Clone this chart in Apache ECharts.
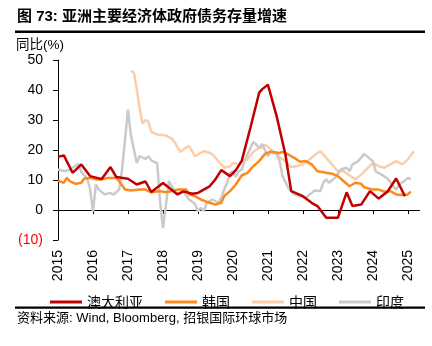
<!DOCTYPE html>
<html>
<head>
<meta charset="utf-8">
<script src="https://cdn.jsdelivr.net/npm/echarts@6/dist/echarts.min.js"></script>
<style>
  html, body { margin: 0; padding: 0; background: #fff; }
  #chart { width: 432px; height: 346px; }
</style>
</head>
<body>
<div id="chart"></div>
<script>
// Monthly category axis, Jan 2015 .. May 2025
const months = [];
for (let y = 2015; y <= 2025; y++) {
  for (let m = 1; m <= 12; m++) {
    if (y === 2025 && m > 5) break;
    months.push(y + '-' + (m < 10 ? '0' + m : m));
  }
}

const seriesNames = ['澳大利亚', '韩国', '中国', '印度'];
const yTicks = { min: -10, max: 50, step: 10 };

// Government debt stock, YoY %
const australia = [
  ['2015-01', 17.7], ['2015-03', 18.2], ['2015-06', 12.4], ['2015-09', 15.2], ['2015-12', 11.3],
  ['2016-04', 10.3], ['2016-07', 14.3], ['2016-09', 11.0], ['2017-01', 10.4], ['2017-04', 8.5],
  ['2017-07', 9.5], ['2017-09', 6.0], ['2018-01', 9.0], ['2018-03', 7.5], ['2018-06', 5.2],
  ['2018-08', 6.2], ['2018-11', 5.4], ['2019-01', 5.7], ['2019-05', 7.9], ['2019-07', 10.2],
  ['2019-09', 13.3], ['2019-12', 11.3], ['2020-02', 13.3], ['2020-04', 16.3], ['2020-07', 27.4],
  ['2020-10', 39.1], ['2020-11', 40.2], ['2021-01', 41.8], ['2021-04', 31.3], ['2021-07', 18.5],
  ['2021-09', 6.3], ['2022-01', 4.6], ['2022-04', 2.4], ['2022-06', 1.3], ['2022-09', -2.6],
  ['2023-01', -2.6], ['2023-04', 5.9], ['2023-06', 1.3], ['2023-09', 1.8], ['2023-12', 6.3],
  ['2024-03', 3.8], ['2024-06', 6.1], ['2024-09', 10.5], ['2024-12', 4.6]
];

const korea = [
  ['2015-01', 9.8], ['2015-03', 9.1], ['2015-04', 10.7], ['2015-05', 9.6], ['2015-07', 8.7],
  ['2015-09', 9.1], ['2015-10', 10.5], ['2015-12', 10.7], ['2016-02', 10.2], ['2016-04', 10.2],
  ['2016-06', 10.7], ['2016-09', 10.7], ['2016-10', 9.6], ['2016-12', 6.8], ['2017-02', 6.5],
  ['2017-05', 6.8], ['2017-07', 6.8], ['2017-09', 5.9], ['2017-12', 6.3], ['2018-02', 5.9],
  ['2018-04', 6.3], ['2018-06', 6.8], ['2018-09', 6.8], ['2018-10', 5.2], ['2018-12', 4.6],
  ['2019-02', 3.5], ['2019-05', 2.4], ['2019-07', 1.8], ['2019-09', 2.4], ['2019-10', 4.6],
  ['2019-12', 6.3], ['2020-02', 8.5], ['2020-04', 11.5], ['2020-06', 12.4], ['2020-08', 14.6],
  ['2020-10', 16.3], ['2020-12', 18.7], ['2021-02', 19.4], ['2021-05', 19.0], ['2021-06', 19.4],
  ['2021-08', 18.5], ['2021-10', 17.4], ['2021-12', 16.1], ['2022-02', 16.3], ['2022-04', 15.2],
  ['2022-06', 12.9], ['2022-09', 12.4], ['2022-11', 12.1], ['2023-01', 11.3], ['2023-03', 9.6],
  ['2023-05', 7.9], ['2023-07', 9.1], ['2023-09', 8.7], ['2023-10', 7.6], ['2024-01', 6.8],
  ['2024-03', 6.8], ['2024-05', 6.1], ['2024-07', 6.3], ['2024-09', 5.2], ['2024-11', 5.0],
  ['2025-01', 5.2], ['2025-02', 6.1]
];

const china = [
  ['2017-02', 46.4], ['2017-03', 45.9], ['2017-04', 40.5], ['2017-05', 33.8], ['2017-06', 28.8],
  ['2017-07', 30.0], ['2017-08', 29.5], ['2017-09', 26.0], ['2017-11', 25.2], ['2018-02', 24.8],
  ['2018-04', 23.8], ['2018-05', 22.6], ['2018-07', 19.3], ['2018-09', 20.9], ['2018-10', 21.3],
  ['2018-12', 17.9], ['2019-01', 18.5], ['2019-03', 19.6], ['2019-05', 19.1], ['2019-06', 18.5],
  ['2019-08', 16.3], ['2019-10', 14.1], ['2019-12', 14.6], ['2020-01', 15.7], ['2020-03', 15.2],
  ['2020-04', 16.3], ['2020-06', 16.8], ['2020-08', 19.4], ['2020-10', 20.7], ['2020-11', 20.9],
  ['2020-12', 21.8], ['2021-02', 20.2], ['2021-04', 18.8], ['2021-05', 17.6], ['2021-07', 16.3],
  ['2021-09', 14.3], ['2021-11', 14.6], ['2022-01', 15.2], ['2022-02', 15.7], ['2022-05', 18.3],
  ['2022-07', 19.6], ['2022-09', 17.4], ['2022-11', 15.2], ['2023-01', 12.9], ['2023-03', 12.9],
  ['2023-05', 11.5], ['2023-07', 10.2], ['2023-09', 11.8], ['2023-11', 13.8], ['2024-01', 15.7],
  ['2024-03', 14.6], ['2024-05', 14.1], ['2024-07', 15.2], ['2024-09', 16.3], ['2024-11', 15.2],
  ['2025-01', 16.8], ['2025-03', 19.6]
];

const india = [
  ['2015-01', 13.5], ['2015-03', 13.0], ['2015-05', 13.3], ['2015-06', 14.1], ['2015-08', 15.3],
  ['2015-09', 12.7], ['2015-11', 10.5], ['2015-12', 7.0], ['2016-01', -0.5], ['2016-02', 8.5],
  ['2016-03', 6.8], ['2016-05', 5.2], ['2016-07', 5.7], ['2016-08', 5.1], ['2016-10', 6.8],
  ['2016-11', 13.7], ['2017-01', 33.5], ['2017-02', 25.0], ['2017-04', 15.7], ['2017-05', 18.0],
  ['2017-06', 17.5], ['2017-07', 17.0], ['2017-08', 17.9], ['2017-09', 16.6], ['2017-10', 16.0],
  ['2017-11', 15.7], ['2017-12', 3.0], ['2018-01', -6.0], ['2018-02', 1.5], ['2018-03', 9.6],
  ['2018-05', 6.3], ['2018-06', 5.4], ['2018-08', 6.2], ['2018-10', 3.5], ['2018-12', 2.0],
  ['2019-01', -0.4], ['2019-02', 0.7], ['2019-03', -0.4], ['2019-04', 2.4], ['2019-06', 3.5],
  ['2019-08', 2.4], ['2019-09', 4.1], ['2019-10', 6.8], ['2019-11', 9.0], ['2019-12', 12.4],
  ['2020-01', 12.9], ['2020-02', 11.0], ['2020-03', 12.9], ['2020-04', 13.5], ['2020-05', 16.3],
  ['2020-06', 18.5], ['2020-08', 22.7], ['2020-09', 21.8], ['2020-10', 20.7], ['2020-11', 22.0],
  ['2021-01', 17.9], ['2021-02', 19.6], ['2021-04', 18.5], ['2021-05', 16.3], ['2021-06', 11.3],
  ['2021-08', 7.4], ['2021-10', 5.2], ['2021-12', 4.6], ['2022-02', 4.1], ['2022-04', 5.7],
  ['2022-05', 6.5], ['2022-07', 6.3], ['2022-08', 9.1], ['2022-09', 10.2], ['2022-10', 9.1],
  ['2022-12', 10.7], ['2023-02', 13.5], ['2023-04', 14.1], ['2023-05', 12.9], ['2023-06', 15.2],
  ['2023-08', 16.3], ['2023-10', 18.7], ['2023-11', 17.9], ['2024-01', 16.3], ['2024-02', 12.9],
  ['2024-04', 11.8], ['2024-06', 10.5], ['2024-08', 7.9], ['2024-09', 6.8], ['2024-10', 8.5],
  ['2024-12', 9.8], ['2025-01', 10.7], ['2025-02', 10.2]
];

const colors = ['#C00000', '#F98A1E', '#FBCDA9', '#CACACA'];
const LATIN = "'Liberation Sans', Arial, sans-serif";
const CJK = "'Liberation Sans', 'Noto Sans CJK SC', sans-serif";

const isYearStart = (idx) => idx % 12 === 0;

function lineSeries(name, data, color, z) {
  return {
    name: name,
    type: 'line',
    data: data,
    xAxisIndex: 0,
    yAxisIndex: 0,
    showSymbol: false,
    symbol: 'none',
    color: color,
    lineStyle: { color: color, width: 2.5 },
    z: z,
    animation: false
  };
}

const chart = echarts.init(document.getElementById('chart'), null, { renderer: 'canvas' });

chart.setOption({
  animation: false,
  backgroundColor: '#fff',
  grid: { left: 58, right: 12.5, top: 60, bottom: 106, containLabel: false },
  legend: {
    data: seriesNames,
    left: 45,
    top: 290,
    icon: 'rect',
    itemWidth: 32,
    itemHeight: 3,
    itemGap: 22,
    textStyle: { fontSize: 14, color: '#000', fontFamily: "'Noto Sans CJK SC', sans-serif" }
  },
  xAxis: [
    {
      // year labels along the bottom
      type: 'category',
      data: months,
      boundaryGap: false,
      position: 'bottom',
      axisLine: { show: false, onZero: false },
      axisTick: { show: false },
      splitLine: { show: false },
      axisLabel: {
        interval: (idx) => isYearStart(idx),
        formatter: (v) => v.slice(0, 4),
        rotate: 90,
        margin: 10,
        fontSize: 14,
        color: '#000',
        fontFamily: LATIN
      }
    },
    {
      // zero baseline with year ticks
      type: 'category',
      data: months,
      boundaryGap: false,
      position: 'top',
      axisLine: { show: true, onZero: true, lineStyle: { color: '#000', width: 1 } },
      axisTick: {
        show: true,
        inside: true,
        length: 4,
        interval: (idx) => isYearStart(idx),
        lineStyle: { color: '#000', width: 1 }
      },
      axisLabel: { show: false },
      splitLine: { show: false }
    }
  ],
  yAxis: {
    type: 'value',
    min: yTicks.min,
    max: yTicks.max,
    interval: yTicks.step,
    axisLine: { show: true, lineStyle: { color: '#000', width: 1 } },
    axisTick: { show: true, inside: false, length: 5, lineStyle: { color: '#000', width: 1 } },
    splitLine: { show: false },
    axisLabel: {
      margin: 15,
      fontSize: 14,
      color: '#000',
      fontFamily: LATIN,
      formatter: (v) => (v < 0 ? '{neg|(' + (-v) + ')}' : String(v)),
      rich: { neg: { color: '#FF0000', fontSize: 14, fontFamily: LATIN } }
    }
  },
  series: [
    lineSeries(seriesNames[0], australia, colors[0], 6),
    lineSeries(seriesNames[1], korea, colors[1], 5),
    lineSeries(seriesNames[2], china, colors[2], 3),
    lineSeries(seriesNames[3], india, colors[3], 4)
  ],
  graphic: [
    {
      type: 'text',
      left: 17,
      top: 9,
      style: {
        text: '图 73: 亚洲主要经济体政府债务存量增速',
        fontSize: 15,
        fontWeight: 'bold',
        fontFamily: CJK,
        fill: '#000'
      }
    },
    {
      type: 'rect',
      shape: { x: 15, y: 30.5, width: 410, height: 2.5 },
      style: { fill: '#000' }
    },
    {
      type: 'text',
      left: 16,
      top: 39,
      style: {
        text: '同比(%)',
        fontSize: 13.5,
        fontFamily: CJK,
        fill: '#000'
      }
    },
    {
      type: 'rect',
      shape: { x: 15, y: 306.5, width: 410, height: 2.2 },
      style: { fill: '#000' }
    },
    {
      type: 'text',
      left: 17,
      top: 312,
      style: {
        text: '资料来源: Wind, Bloomberg, 招银国际环球市场',
        fontSize: 13,
        fontFamily: CJK,
        fill: '#000'
      }
    }
  ]
});
</script>
</body>
</html>
